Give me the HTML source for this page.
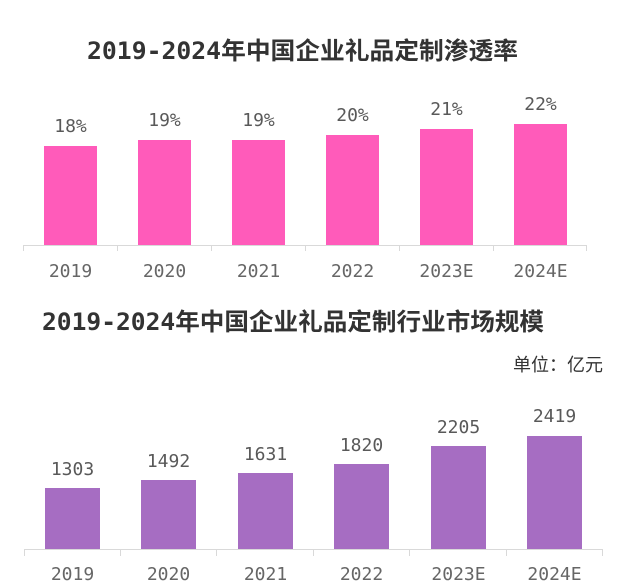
<!DOCTYPE html>
<html>
<head>
<meta charset="utf-8">
<style>
  html, body { margin: 0; padding: 0; background: #ffffff; }
  body { width: 620px; height: 587px; overflow: hidden; }
  svg { display: block; }
  .title { font-family: "DejaVu Sans Mono", "Noto Sans CJK SC", monospace; font-weight: bold; font-size: 24px; fill: #333333; }
  .val { font-family: "DejaVu Sans Mono", "Liberation Mono", monospace; font-size: 18px; fill: #595959; }
  .cat { font-family: "DejaVu Sans Mono", "Liberation Mono", monospace; font-size: 18px; fill: #666666; }
  .unit { font-family: "Liberation Sans", "Noto Sans CJK SC", sans-serif; font-size: 18px; fill: #333333; }
</style>
</head>
<body>
<svg width="620" height="587" viewBox="0 0 620 587" xmlns="http://www.w3.org/2000/svg">
  <!-- Top chart -->
  <text class="title" x="87" y="59" textLength="431" lengthAdjust="spacingAndGlyphs">2019-2024年中国企业礼品定制渗透率</text>

  <g fill="#ff5bba">
    <rect x="44" y="146" width="53" height="99"/>
    <rect x="138" y="140" width="53" height="105"/>
    <rect x="232" y="140" width="53" height="105"/>
    <rect x="326" y="135" width="53" height="110"/>
    <rect x="420" y="129" width="53" height="116"/>
    <rect x="514" y="124" width="53" height="121"/>
  </g>
  <g stroke="#d9d9d9" stroke-width="1" fill="none">
    <line x1="23" y1="245.5" x2="587" y2="245.5"/>
    <line x1="23.5" y1="245" x2="23.5" y2="251"/>
    <line x1="117.5" y1="245" x2="117.5" y2="251"/>
    <line x1="211.5" y1="245" x2="211.5" y2="251"/>
    <line x1="305.5" y1="245" x2="305.5" y2="251"/>
    <line x1="399.5" y1="245" x2="399.5" y2="251"/>
    <line x1="493.5" y1="245" x2="493.5" y2="251"/>
    <line x1="586.5" y1="245" x2="586.5" y2="251"/>
  </g>
  <g class="val" text-anchor="middle">
    <text x="70.5" y="132">18%</text>
    <text x="164.5" y="126">19%</text>
    <text x="258.5" y="126">19%</text>
    <text x="352.5" y="121">20%</text>
    <text x="446.5" y="115">21%</text>
    <text x="540.5" y="110">22%</text>
  </g>
  <g class="cat" text-anchor="middle">
    <text x="70.5" y="277">2019</text>
    <text x="164.5" y="277">2020</text>
    <text x="258.5" y="277">2021</text>
    <text x="352.5" y="277">2022</text>
    <text x="446.5" y="277">2023E</text>
    <text x="540.5" y="277">2024E</text>
  </g>

  <!-- Bottom chart -->
  <text class="title" x="42" y="330" textLength="502" lengthAdjust="spacingAndGlyphs">2019-2024年中国企业礼品定制行业市场规模</text>
  <text class="unit" x="603" y="371" text-anchor="end">单位：亿元</text>

  <g fill="#a66dc2">
    <rect x="45" y="488" width="55" height="61"/>
    <rect x="141" y="480" width="55" height="69"/>
    <rect x="238" y="473" width="55" height="76"/>
    <rect x="334" y="464" width="55" height="85"/>
    <rect x="431" y="446" width="55" height="103"/>
    <rect x="527" y="436" width="55" height="113"/>
  </g>
  <g stroke="#d9d9d9" stroke-width="1" fill="none">
    <line x1="24" y1="549.5" x2="603" y2="549.5"/>
    <line x1="24.5" y1="549" x2="24.5" y2="556"/>
    <line x1="120.5" y1="549" x2="120.5" y2="556"/>
    <line x1="216.5" y1="549" x2="216.5" y2="556"/>
    <line x1="313.5" y1="549" x2="313.5" y2="556"/>
    <line x1="409.5" y1="549" x2="409.5" y2="556"/>
    <line x1="506.5" y1="549" x2="506.5" y2="556"/>
    <line x1="602.5" y1="549" x2="602.5" y2="556"/>
  </g>
  <g class="val" text-anchor="middle">
    <text x="72.5" y="475">1303</text>
    <text x="168.5" y="467">1492</text>
    <text x="265.5" y="460">1631</text>
    <text x="361.5" y="451">1820</text>
    <text x="458.5" y="433">2205</text>
    <text x="554.5" y="422">2419</text>
  </g>
  <g class="cat" text-anchor="middle">
    <text x="72.5" y="580">2019</text>
    <text x="168.5" y="580">2020</text>
    <text x="265.5" y="580">2021</text>
    <text x="361.5" y="580">2022</text>
    <text x="458.5" y="580">2023E</text>
    <text x="554.5" y="580">2024E</text>
  </g>
</svg>
</body>
</html>
